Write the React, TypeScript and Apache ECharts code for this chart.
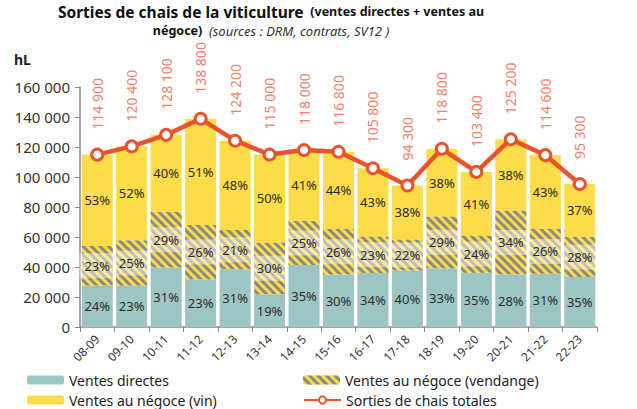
import React, { useEffect, useRef } from "react";
import * as echarts from "echarts";

const categories = ["08-09", "09-10", "10-11", "11-12", "12-13", "13-14", "14-15", "15-16", "16-17", "17-18", "18-19", "19-20", "20-21", "21-22", "22-23"];
const ventesDirectes = [27600, 27700, 39700, 31900, 38500, 21900, 41300, 35000, 36000, 37700, 39200, 36200, 35100, 35500, 33400];
const negoceVendange = [26400, 30100, 37100, 36100, 26100, 34500, 29500, 30400, 24300, 20700, 34500, 24800, 42600, 29800, 26700];
const negoceVin = [60900, 62600, 51300, 70800, 59600, 58600, 47200, 51400, 45500, 35900, 45100, 42400, 47500, 49300, 35200];
const totals = [114900, 120400, 128100, 138800, 124200, 115000, 118000, 116800, 105800, 94300, 118800, 103400, 125200, 114600, 95300];
const pctDirectes = [24, 23, 31, 23, 31, 19, 35, 30, 34, 40, 33, 35, 28, 31, 35];
const pctVendange = [23, 25, 29, 26, 21, 30, 25, 26, 23, 22, 29, 24, 34, 26, 28];
const pctVin = [53, 52, 40, 51, 48, 50, 41, 44, 43, 38, 38, 41, 38, 43, 37];

const FONT = "Noto Sans";
const fmt = (v: number) => String(v).replace(/\B(?=(\d{3})+(?!\d))/g, " ");

export default function App() {
  const ref = useRef<HTMLDivElement>(null);
  useEffect(() => {
    const chart = echarts.init(ref.current!, null, { renderer: "svg" });
    const pctLabel = (arr: number[], bg?: boolean) => ({
      show: true,
      position: "inside",
      fontFamily: FONT,
      fontSize: 13,
      color: "#2b2b2b",
      formatter: (p: any) => arr[p.dataIndex] + "%",
      ...(bg ? { backgroundColor: "rgba(255,255,255,0.45)", padding: [6, 5] } : {}),
    });
    const leg = (name: string, left: number, top: number) => ({
      orient: "horizontal",
      left,
      top,
      padding: 0,
      itemWidth: 37,
      itemHeight: 9,
      itemGap: 4,
      textStyle: { fontFamily: FONT, fontSize: 14, color: "#222", lineHeight: 16 },
      data: [name],
    });
    chart.setOption({
      animation: false,
      textStyle: { fontFamily: FONT },
      graphic: [
        {
          type: "text",
          x: 271,
          y: 2,
          style: {
            align: "center",
            text: "{a|Sorties de chais de la viticulture}  {b|(ventes directes + ventes au}\n{b|négoce)}  {c|(sources : DRM, contrats, SV12 )}",
            rich: {
              a: { fontFamily: FONT, fontSize: 15.5, fontWeight: "bold", fill: "#111", lineHeight: 19 },
              b: { fontFamily: FONT, fontSize: 12.5, fontWeight: "bold", fill: "#111", lineHeight: 19 },
              c: { fontFamily: FONT, fontSize: 13, fontStyle: "italic", fill: "#333", lineHeight: 19 },
            },
          },
        },
        {
          type: "text",
          x: 14,
          y: 52,
          style: { text: "hL", fontFamily: FONT, fontSize: 14, fontWeight: "bold", fill: "#222" },
        },
      ],
      legend: [
        leg("Ventes directes", 27, 372),
        leg("Ventes au négoce (vin)", 27, 392),
        leg("Ventes au négoce (vendange)", 303, 372),
        leg("Sorties de chais totales", 303, 392),
      ],
      grid: { left: 80, right: 40, top: 87, bottom: 82, containLabel: false },
      xAxis: {
        type: "category",
        data: categories,
        axisLine: { lineStyle: { color: "#8a8a8a", width: 1.5 } },
        axisTick: { show: true, length: 5, lineStyle: { color: "#8a8a8a" } },
        axisLabel: { rotate: 45, fontFamily: FONT, fontSize: 12, color: "#333", margin: 10 },
      },
      yAxis: {
        type: "value",
        min: 0,
        max: 160000,
        interval: 20000,
        splitLine: { show: false },
        axisLine: { show: true, lineStyle: { color: "#8a8a8a", width: 1.5 } },
        axisTick: { show: true, length: 5, lineStyle: { color: "#8a8a8a" } },
        axisLabel: { fontFamily: FONT, fontSize: 15, color: "#333", margin: 10, formatter: (v: number) => fmt(v) },
      },
      series: [
        {
          name: "Ventes directes",
          type: "bar",
          stack: "s",
          barCategoryGap: "10%",
          data: ventesDirectes,
          itemStyle: { color: "#9DC6C3" },
          label: pctLabel(pctDirectes),
        },
        {
          name: "Ventes au négoce (vendange)",
          type: "bar",
          stack: "s",
          data: negoceVendange,
          itemStyle: {
            color: "#FDDC4A",
            decal: {
              symbol: "rect",
              symbolSize: 1,
              color: "#8a8a8a",
              dashArrayX: [1, 0],
              dashArrayY: [2.5, 2.5],
              rotation: Math.PI / 4,
            },
          },
          label: pctLabel(pctVendange, true),
        },
        {
          name: "Ventes au négoce (vin)",
          type: "bar",
          stack: "s",
          data: negoceVin,
          itemStyle: { color: "#FDDC4A" },
          label: pctLabel(pctVin),
        },
        {
          name: "Sorties de chais totales",
          type: "line",
          data: totals,
          z: 5,
          lineStyle: { color: "#E8532B", width: 4.5 },
          itemStyle: { color: "#fff", borderColor: "#E8532B", borderWidth: 3 },
          symbol: "circle",
          symbolSize: 11,
          label: {
            show: true,
            position: "top",
            rotate: 90,
            align: "left",
            verticalAlign: "middle",
            distance: 18,
            fontFamily: FONT,
            fontSize: 14,
            color: "#F0826B",
            formatter: (p: any) => fmt(p.value),
          },
        },
      ],
    });
    return () => chart.dispose();
  }, []);
  return <div ref={ref} style={{ width: 637, height: 409, position: "absolute", left: 0, top: 0 }} />;
}
